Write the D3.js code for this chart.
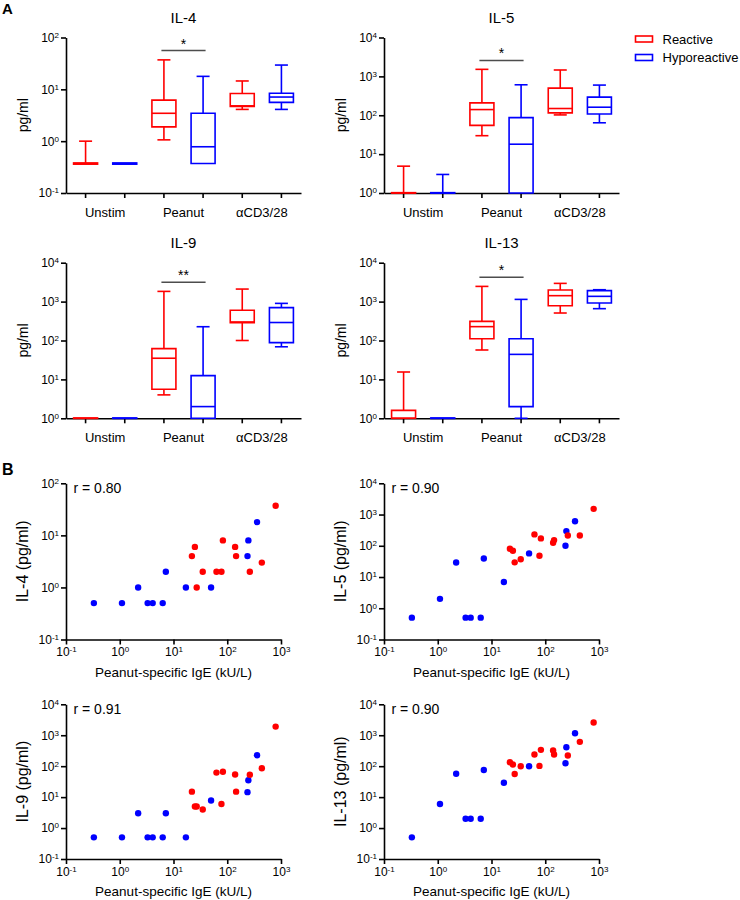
<!DOCTYPE html>
<html><head><meta charset="utf-8">
<script src="https://cdn.jsdelivr.net/npm/d3@7"></script>
<style>
body{margin:0;background:#fff;}
svg{display:block;font-family:"Liberation Sans",Arial,Helvetica,sans-serif;}
</style></head><body>
<svg id="chart" width="740" height="900"></svg>
<script>
// ---------------- DATA ----------------
const cytokines = ["IL-4", "IL-5", "IL-9", "IL-13"];
const stimGroups = ["Unstim", "Peanut", "αCD3/28"];
const seriesNames = ["Reactive", "Hyporeactive"];

// Box statistics [min, q1, median, q3, max] (pg/ml)
// order: Unstim-R, Unstim-H, Peanut-R, Peanut-H, αCD3/28-R, αCD3/28-H
const boxIL4 = [
  [0.36, 0.36, 0.37, 0.38, 1.0],
  [0.36, 0.36, 0.37, 0.38, 0.38],
  [1.06, 1.89, 3.45, 6.2, 37],
  [0.37, 0.37, 0.78, 3.45, 17.8],
  [4.1, 4.7, 4.8, 8.3, 14.5],
  [4.1, 5.6, 7.1, 8.4, 29.4]
];
const boxIL5 = [
  [1, 1, 1, 1.02, 4.9],
  [1, 1, 1, 1.02, 3.0],
  [29.8, 55, 140, 208, 1517],
  [1, 1, 18, 87, 608],
  [102, 115, 149, 499, 1459],
  [64, 108, 161, 292, 597]
];
const boxIL9 = [
  [1, 1, 1, 1.02, 1.02],
  [1, 1, 1, 1.02, 1.02],
  [4.0, 5.6, 35, 62, 1830],
  [1, 1, 2.0, 12.5, 226],
  [100, 285, 300, 600, 2100],
  [69, 88, 290, 700, 900]
];
const boxIL13 = [
  [1, 1, 1, 1.6, 15.5],
  [1, 1, 1, 1.02, 1.02],
  [57, 111, 227, 311, 2460],
  [1, 2.0, 44, 111, 1140],
  [509, 785, 1420, 1980, 2940],
  [658, 920, 1365, 1920, 2020]
];
const boxDomains = [[0.1, 100], [1, 1e4], [1, 1e4], [1, 1e4]];
const sigLabels = ["*", "*", "**", "*"];
const sigLevels = [56, 2570, 3150, 4200];   // height of the significance bar (pg/ml)

// Scatter: peanut-specific IgE (kU/L) vs cytokine (pg/ml)
const igeReactive = [22, 25, 27, 35, 63, 78, 83, 140, 146, 263, 440, 795];
const igeHypo     = [0.33, 1.1, 2.2, 3.3, 4.1, 6.3, 7.2, 17, 50, 238, 247, 358];
const il4Reactive  = [4, 6, 1, 2, 2, 2, 8, 6, 4, 2, 3, 37];
const il4Hypo      = [0.5, 0.5, 1, 0.5, 0.5, 0.5, 2, 1, 1, 4, 8, 18];
const il5Reactive  = [80, 69, 29.5, 37, 231, 48, 172, 125, 152, 214, 214, 1520];
const il5Hypo      = [0.5, 2, 29, 0.5, 0.5, 0.5, 39, 6.9, 57, 100, 295, 611];
const il9Reactive  = [15, 5, 5, 4, 62, 6, 66, 54, 15, 53, 86, 1900];
const il9Hypo      = [0.5, 0.5, 3, 0.5, 0.5, 0.5, 3, 0.5, 7.8, 14.5, 35, 226];
const il13Reactive = [134, 113, 56, 100, 238, 102, 337, 320, 238, 221, 612, 2570];
const il13Hypo     = [0.5, 6, 57, 2, 2, 2, 75, 29, 100, 125, 410, 1160];
const scatterYDomains = [[0.1, 100], [0.1, 1e4], [0.1, 1e4], [0.1, 1e4]];
const igeDomain = [0.1, 1000];
const rValues = ["0.80", "0.90", "0.91", "0.90"];

// ---------------- LAYOUT / STYLE ----------------
const colors = { "Reactive": "#ff0000", "Hyporeactive": "#0000ff" };
const boxPanels = [
  { x0: 66,  x1: 301, y0: 37.5,  y1: 193 },
  { x0: 384, x1: 619, y0: 37.5,  y1: 193 },
  { x0: 66,  x1: 301, y0: 262.7, y1: 418.3 },
  { x0: 384, x1: 619, y0: 262.7, y1: 418.3 }
];
const scatterPanels = [
  { x0: 66,  x1: 281, y0: 483.3, y1: 639.5 },
  { x0: 384, x1: 599, y0: 483.3, y1: 639.5 },
  { x0: 66,  x1: 281, y0: 704.3, y1: 859 },
  { x0: 384, x1: 599, y0: 704.3, y1: 859 }
];
const boxData = [boxIL4, boxIL5, boxIL9, boxIL13];
const scatterData = [
  [il4Reactive, il4Hypo], [il5Reactive, il5Hypo],
  [il9Reactive, il9Hypo], [il13Reactive, il13Hypo]
];

const svg = d3.select("#chart");
const AX_W = 1.6, BOX_W = 1.6;

function decades(dom) {
  const out = [];
  for (let e = Math.round(Math.log10(dom[0])); e <= Math.round(Math.log10(dom[1])); e++) out.push(Math.pow(10, e));
  return out;
}
function supLabels(g) {
  g.selectAll(".tick text").each(function(d) {
    const e = Math.round(Math.log10(d));
    const t = d3.select(this);
    t.text(null);
    t.append("tspan").text("10");
    t.append("tspan").attr("dy", "-0.5em").attr("font-size", "8px").text(e < 0 ? "-" + (-e) : String(e));
  });
}
function styleAxis(g) {
  g.attr("color", "#000");
  g.select(".domain").attr("stroke-width", AX_W);
  g.selectAll(".tick line").attr("stroke-width", AX_W);
  g.selectAll(".tick text").attr("font-size", "12px").attr("fill", "#000");
}

// panel letters
svg.append("text").attr("x", 2).attr("y", 14).attr("font-size", "15px").attr("font-weight", "bold").text("A");
svg.append("text").attr("x", 2).attr("y", 475).attr("font-size", "16px").attr("font-weight", "bold").text("B");

// ---------------- BOX PLOTS ----------------
cytokines.forEach((cy, ci) => {
  const p = boxPanels[ci];
  const g = svg.append("g");
  const y = d3.scaleLog().domain(boxDomains[ci]).range([p.y1, p.y0]).clamp(true);
  const xg = d3.scaleBand().domain(stimGroups).range([p.x0, p.x1]);
  const keys = stimGroups.flatMap(s => seriesNames.map(n => s + "|" + n));
  const xk = d3.scaleBand().domain(keys).range([p.x0, p.x1]);
  const bw = xk.bandwidth();

  // title
  g.append("text").attr("x", (p.x0 + p.x1) / 2).attr("y", p.y0 - 15)
    .attr("text-anchor", "middle").attr("font-size", "15px").text(cy);

  // axes
  const ya = g.append("g").attr("transform", `translate(${p.x0},0)`)
    .call(d3.axisLeft(y).tickValues(decades(boxDomains[ci])).tickSize(5).tickPadding(2).tickSizeOuter(0));
  styleAxis(ya); supLabels(ya);
  const xa = g.append("g").attr("transform", `translate(0,${p.y1})`)
    .call(d3.axisBottom(xk).tickSize(5).tickSizeOuter(0).tickFormat(""));
  styleAxis(xa);
  const la = g.append("g").attr("transform", `translate(0,${p.y1})`)
    .call(d3.axisBottom(xg).tickSize(0).tickPadding(14.5));
  la.select(".domain").remove();
  la.selectAll(".tick text").attr("font-size", "13px").attr("fill", "#000");

  g.append("text").attr("transform", `translate(${p.x0 - 38.5},${(p.y0 + p.y1) / 2}) rotate(-90)`)
    .attr("text-anchor", "middle").attr("font-size", "14px").text("pg/ml");

  // boxes
  keys.forEach((k, i) => {
    const [mn, q1, md, q3, mx] = boxData[ci][i];
    const col = colors[k.split("|")[1]];
    const cx = xk(k) + bw / 2;
    const half = 12, cap = 6.5;
    const bg = g.append("g").attr("stroke", col).attr("stroke-width", BOX_W).attr("fill", "none");
    if (mx > q3) {
      bg.append("line").attr("x1", cx).attr("x2", cx).attr("y1", y(q3)).attr("y2", y(mx));
      bg.append("line").attr("x1", cx - cap).attr("x2", cx + cap).attr("y1", y(mx)).attr("y2", y(mx));
    }
    if (mn < q1) {
      bg.append("line").attr("x1", cx).attr("x2", cx).attr("y1", y(q1)).attr("y2", y(mn));
      bg.append("line").attr("x1", cx - cap).attr("x2", cx + cap).attr("y1", y(mn)).attr("y2", y(mn));
    }
    bg.append("path").attr("d", `M${cx - half},${y(q3)}H${cx + half}V${y(q1)}H${cx - half}Z`).attr("fill", "#fff");
    bg.append("line").attr("x1", cx - half).attr("x2", cx + half).attr("y1", y(md)).attr("y2", y(md));
  });

  // significance
  const xa1 = xk("Peanut|Reactive") + bw / 2 - 2.5, xa2 = xk("Peanut|Hyporeactive") + bw / 2 + 2.5;
  const sy = y(sigLevels[ci]);
  g.append("line").attr("x1", xa1).attr("x2", xa2).attr("y1", sy).attr("y2", sy)
    .attr("stroke", "#4d4d4d").attr("stroke-width", 1.5);
  g.append("text").attr("x", (xa1 + xa2) / 2).attr("y", sy - 2).attr("text-anchor", "middle")
    .attr("font-size", "14px").text(sigLabels[ci]);
});

// legend
seriesNames.forEach((n, i) => {
  const ly = 36 + i * 18.5;
  svg.append("rect").attr("x", 635.5).attr("y", ly).attr("width", 17).attr("height", 6)
    .attr("fill", "none").attr("stroke", colors[n]).attr("stroke-width", BOX_W);
  svg.append("text").attr("x", 662.5).attr("y", ly + 7.7).attr("font-size", "13px").text(n);
});

// ---------------- SCATTER PLOTS ----------------
cytokines.forEach((cy, ci) => {
  const p = scatterPanels[ci];
  const g = svg.append("g");
  const x = d3.scaleLog().domain(igeDomain).range([p.x0, p.x1]);
  const y = d3.scaleLog().domain(scatterYDomains[ci]).range([p.y1, p.y0]);

  const ya = g.append("g").attr("transform", `translate(${p.x0},0)`)
    .call(d3.axisLeft(y).tickValues(decades(scatterYDomains[ci])).tickSize(5).tickPadding(2).tickSizeOuter(0));
  styleAxis(ya); supLabels(ya);
  const xa = g.append("g").attr("transform", `translate(0,${p.y1})`)
    .call(d3.axisBottom(x).tickValues(decades(igeDomain)).tickSize(5).tickPadding(3).tickSizeOuter(0));
  styleAxis(xa); supLabels(xa);

  g.append("text").attr("x", (p.x0 + p.x1) / 2).attr("y", p.y1 + 37)
    .attr("text-anchor", "middle").attr("font-size", "13.5px").text("Peanut-specific IgE (kU/L)");
  g.append("text").attr("transform", `translate(${p.x0 - 38.5},${(p.y0 + p.y1) / 2}) rotate(-90)`)
    .attr("text-anchor", "middle").attr("font-size", "16px").text(cy + " (pg/ml)");
  g.append("text").attr("x", p.x0 + 7.5).attr("y", p.y0 + 9.2).attr("font-size", "14px").text("r = " + rValues[ci]);

  const [rv, hv] = scatterData[ci];
  g.append("g").attr("fill", colors["Hyporeactive"]).selectAll("circle")
    .data(igeHypo.map((v, i) => [v, hv[i]])).join("circle")
    .attr("cx", d => x(d[0])).attr("cy", d => y(d[1])).attr("r", 3.2);
  g.append("g").attr("fill", colors["Reactive"]).selectAll("circle")
    .data(igeReactive.map((v, i) => [v, rv[i]])).join("circle")
    .attr("cx", d => x(d[0])).attr("cy", d => y(d[1])).attr("r", 3.2);
});
</script>
</body></html>
